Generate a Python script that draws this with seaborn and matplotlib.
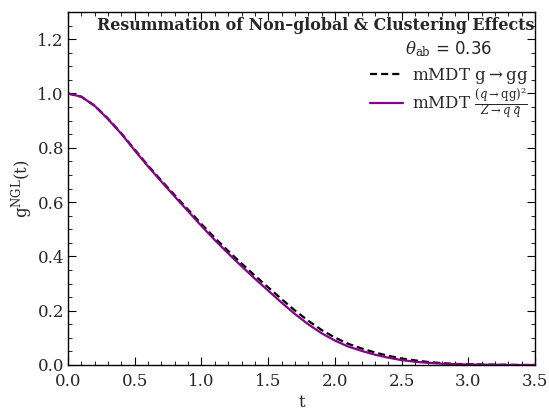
import numpy as np
import pandas as pd
import matplotlib
matplotlib.use("Agg")
import matplotlib.pyplot as plt
import seaborn as sns
from matplotlib.ticker import MultipleLocator

# values, t = 0.0 ... 3.5 in steps of 0.1
t_vals = [round(0.1 * i, 1) for i in range(36)]
g_gluon = [1.000, 0.988, 0.955, 0.907, 0.853, 0.793, 0.734, 0.679, 0.625, 0.572,
           0.519, 0.468, 0.420, 0.374, 0.329, 0.286, 0.243, 0.201, 0.163, 0.129,
           0.101, 0.078, 0.061, 0.046, 0.034, 0.024, 0.017, 0.011, 0.007, 0.004,
           0.003, 0.002, 0.001, 0.001, 0.000, 0.000]
g_quark = [1.000, 0.988, 0.954, 0.905, 0.851, 0.790, 0.731, 0.675, 0.620, 0.566,
           0.512, 0.460, 0.411, 0.364, 0.318, 0.274, 0.230, 0.188, 0.150, 0.117,
           0.090, 0.068, 0.052, 0.038, 0.027, 0.018, 0.012, 0.008, 0.005, 0.003,
           0.002, 0.001, 0.001, 0.000, 0.000, 0.000]

label_gluon = r'mMDT g$\rightarrow$gg'
label_quark = r'mMDT $\frac{(q\rightarrow \mathrm{qg})^2}{Z\rightarrow q\,\bar{q}}$'

df = pd.DataFrame({'t': t_vals * 2,
                   'g': g_gluon + g_quark,
                   'curve': [label_gluon] * 36 + [label_quark] * 36})

sns.set_theme(style="ticks")
plt.rcParams['font.family'] = ['DejaVu Serif']
plt.rcParams['mathtext.fontset'] = 'dejavuserif'

fig = plt.figure(figsize=(5.49, 4.15), dpi=100)
ax = fig.add_axes([0.124, 0.1205, 0.8505, 0.8505])

sns.lineplot(data=df, x='t', y='g', hue='curve', style='curve',
             palette={label_gluon: 'black', label_quark: '#850085'},
             dashes={label_gluon: (3.2, 1.8), label_quark: ''},
             linewidth=1.6, ax=ax, legend=False)

ax.set_xlim(0, 3.5)
ax.set_ylim(0, 1.3)
ax.xaxis.set_major_locator(MultipleLocator(0.5))
ax.xaxis.set_minor_locator(MultipleLocator(0.1))
ax.set_yticks([0, 0.2, 0.4, 0.6, 0.8, 1.0, 1.2])
ax.yaxis.set_minor_locator(MultipleLocator(0.05))
ax.tick_params(which='both', direction='in', top=True, right=True, labelsize=12, color='black')
ax.tick_params(which='major', length=6, width=0.8, pad=3)
ax.tick_params(axis='x', which='major', pad=6)
ax.tick_params(which='minor', length=3, width=0.6)
for s in ax.spines.values():
    s.set_color('black')
    s.set_linewidth(1.0)

ax.set_xlabel('t', fontsize=12, labelpad=3)
ax.set_ylabel(r'g$^{\mathrm{NGL}}$(t)', fontsize=12, labelpad=2)

ax.text(0.998, 0.985, 'Resummation of Non–global & Clustering Effects',
        transform=ax.transAxes, ha='right', va='top', fontsize=11.4, fontweight='bold')
ax.text(0.815, 0.895, r'$\theta_{\mathrm{ab}}$ = 0.36', transform=ax.transAxes,
        ha='center', va='center', fontsize=12, family=['DejaVu Sans'])

handles = [plt.Line2D([], [], color='black', lw=1.6, dashes=(3.2, 1.8)),
           plt.Line2D([], [], color='#850085', lw=1.6)]
ax.legend(handles, [label_gluon, label_quark], loc='upper right',
          bbox_to_anchor=(1.01, 0.88), frameon=False, fontsize=12,
          handlelength=2.0, handletextpad=0.5, labelspacing=0.0, borderpad=0.2)

fig.savefig('out.png', dpi=100, facecolor='white')
